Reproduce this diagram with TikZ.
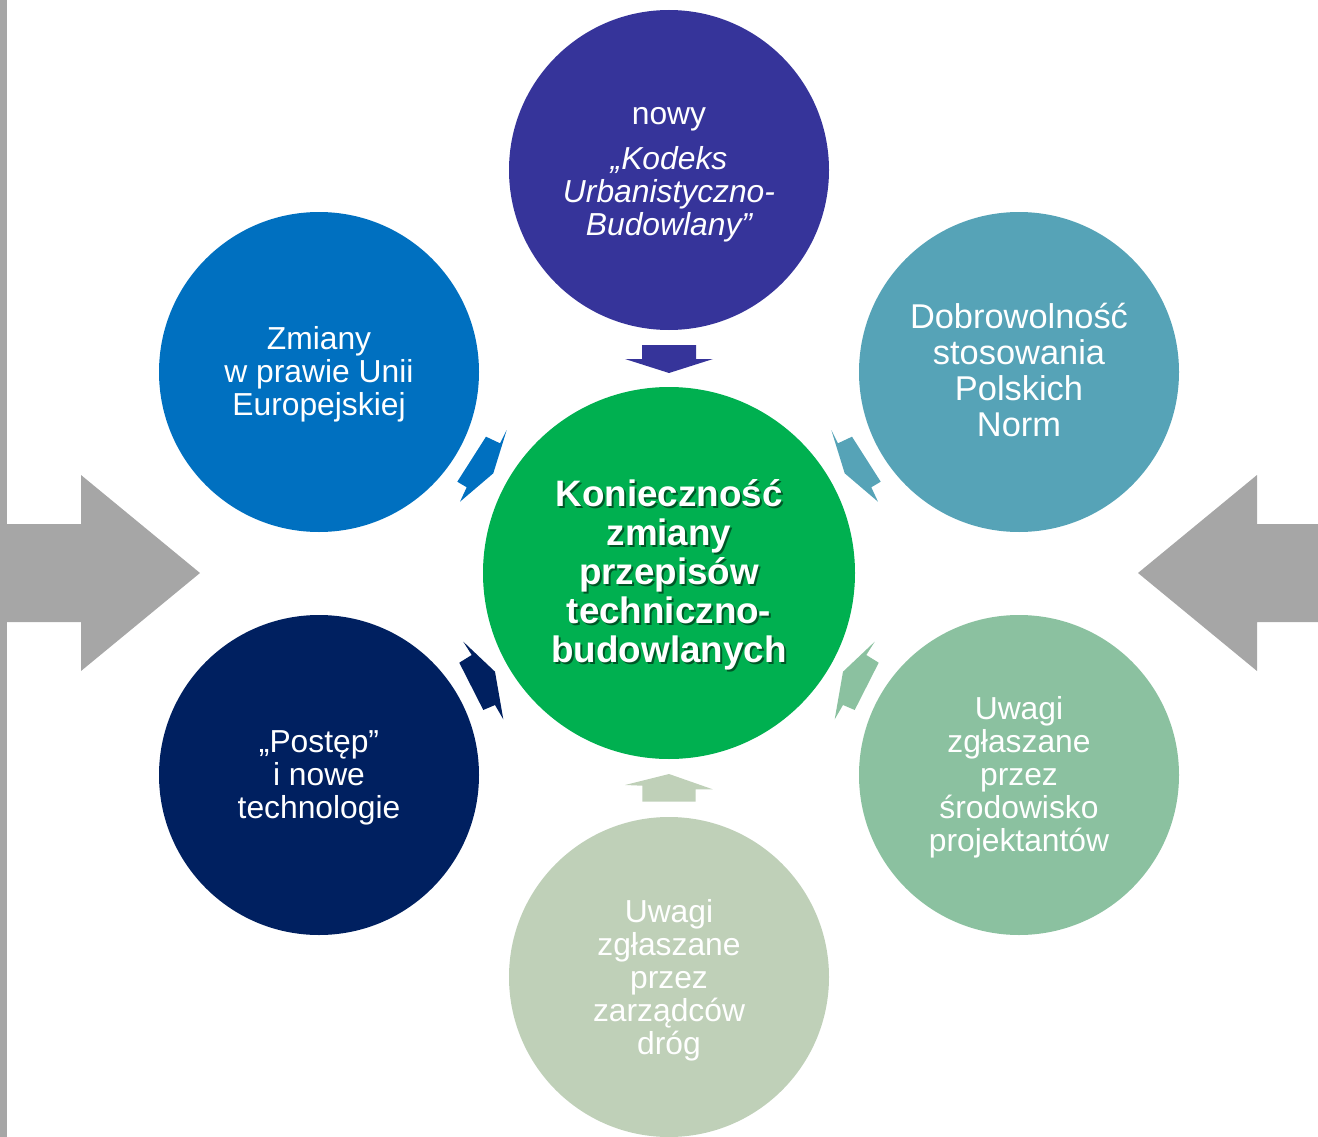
\documentclass[tikz,border=0pt]{standalone}
\usepackage{fontspec}
\setmainfont{Liberation Sans}
\definecolor{cTop}{HTML}{36349A}
\definecolor{cTL}{HTML}{0070C0}
\definecolor{cTR}{HTML}{56A3B7}
\definecolor{cBL}{HTML}{002060}
\definecolor{cBR}{HTML}{8BC1A0}
\definecolor{cBot}{HTML}{BFD0B8}
\definecolor{cMid}{HTML}{00B050}
\definecolor{cGray}{HTML}{A6A6A6}
\begin{document}
\begin{tikzpicture}[x=1pt,y=-1pt,
  outer/.style={circle, minimum size=320pt, inner sep=0pt, text=white, align=center,
    font=\fontsize{31.8}{33}\selectfont},
  midtext/.style={inner sep=0pt, align=center, font=\fontsize{36.8}{39}\selectfont\bfseries}]
\useasboundingbox (0,0) rectangle (1318,1137);
% left gray bar
\fill[cGray] (0,0) rectangle (7,1137);
% big gray arrows
\fill[cGray] (0,524) -- (81,524) -- (81,475) -- (200,573) -- (81,671) -- (81,622) -- (0,622) -- cycle;
\fill[cGray] (1318,524) -- (1257,524) -- (1257,475) -- (1138,573) -- (1257,671) -- (1257,622) -- (1318,622) -- cycle;
% circles
\node[outer, fill=cTop] (top) at (669,170) {};
\node[outer, fill=none, minimum size=0pt, yshift=-5pt] (toptext) at (top.center) {nowy\\[12pt]\itshape „Kodeks\\\itshape Urbanistyczno-\\\itshape Budowlany”};
\node[outer, fill=cTL] (tl) at (319,372) {};
\node[outer, fill=none, minimum size=0pt, yshift=-2.5pt] (tltext) at (tl.center) {Zmiany\\w prawie Unii\\Europejskiej};
\node[outer, fill=cTR] (tr) at (1019,372) {};
\node[outer, fill=none, minimum size=0pt, yshift=1.5pt, font=\fontsize{34.4}{36}\selectfont] (trtext) at (tr.center) {Dobrowolność\\stosowania\\Polskich\\Norm};
\node[outer, fill=cBL] (bl) at (319,775) {};
\node[outer, fill=none, minimum size=0pt, yshift=-2.5pt] (bltext) at (bl.center) {„Postęp”\\i nowe\\technologie};
\node[outer, fill=cBR] (br) at (1019,775) {};
\node[outer, fill=none, minimum size=0pt, yshift=-2.5pt] (brtext) at (br.center) {Uwagi\\zgłaszane\\przez\\środowisko\\projektantów};
\node[outer, fill=cBot] (bot) at (669,977) {};
\node[outer, fill=none, minimum size=0pt, yshift=-3pt] (bottext) at (bot.center) {Uwagi\\zgłaszane\\przez\\zarządców\\dróg};
\node[circle, minimum size=372pt, inner sep=0pt, fill=cMid] (mid) at (669,573) {};
\node[midtext, text=black, text opacity=0.5] (midshadow) at ([shift={(2pt,-4pt)}]mid.center) {Konieczność\\zmiany\\przepisów\\techniczno-\\budowlanych};
\node[midtext, text=white] (midtext) at ([yshift=-2pt]mid.center) {Konieczność\\zmiany\\przepisów\\techniczno-\\budowlanych};
% small block arrows
\fill[cTop] (642,345) -- (696,345) -- (696,359) -- (713,359) -- (669,373) -- (625,359) -- (642,359) -- cycle;
\fill[cBot] (669,774) -- (712.7,789.3) -- (695.7,789.3) -- (695.7,801.7) -- (642.3,801.7) -- (642.3,785.7) -- (625,785) -- cycle;
\fill[cTL] (506.7,430) -- (500,443.3) -- (486,436.7) -- (457.3,481.7) -- (466.7,487.3) -- (460,501.7) -- (493.3,473.3) -- cycle;
\fill[cTR] (831.3,430) -- (838,443.3) -- (852,436.7) -- (880.7,481.7) -- (871.3,487.3) -- (878,501.7) -- (844.7,473.3) -- cycle;
\fill[cBL] (463.3,641.7) -- (471.7,655) -- (459.3,662.7) -- (483.3,710) -- (495,705) -- (503.3,719.3) -- (495,671.7) -- cycle;
\fill[cBR] (874.7,641.7) -- (866.3,655) -- (878.7,662.7) -- (854.7,710) -- (843,705) -- (834.7,719.3) -- (843,671.7) -- cycle;
\end{tikzpicture}
\end{document}
